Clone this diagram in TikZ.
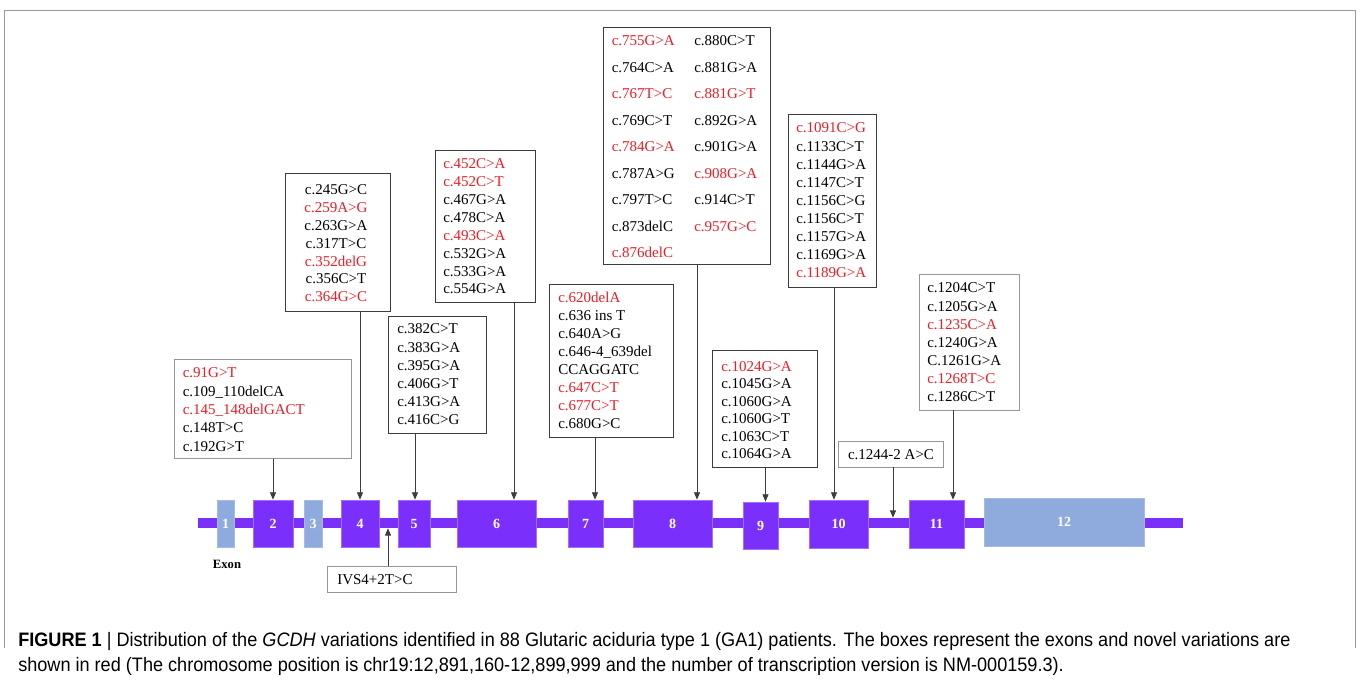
\documentclass[tikz,border=0pt]{standalone}
\usepackage{fontspec}
\setmainfont{Liberation Serif}
\newfontfamily\capfont[FakeStretch=0.93]{Liberation Sans}
\usetikzlibrary{arrows.meta,calc}
\definecolor{exv}{RGB}{122,48,250}
\definecolor{exb}{RGB}{143,170,220}
\definecolor{vred}{RGB}{238,28,36}
\definecolor{dk}{RGB}{60,60,60}
\definecolor{lg}{RGB}{150,150,150}
\newcommand\rd[1]{\textcolor{vred}{#1}}
\newcommand\rbox[7]{\node[#2, inner sep=0, minimum width={(#5-#3)*0.75pt}, minimum height={(#6-#4)*0.75pt}] (#1) at ({(#3+#5)/2},{(#4+#6)/2}) {#7};}
\newcommand\vlines[6][]{\foreach \t [count=\i from 0] in {#6} {\node[vt,#1] (#2-\i) at (#3,{#4+\i*#5}) {\t};}}
\begin{document}
\begin{tikzpicture}[x=0.75pt,y=-0.75pt,
 exon/.style={fill=exv, draw=exv!70!white, line width=0.5pt, text=white, font=\fontsize{10.5}{12}\selectfont\bfseries},
 exonb/.style={exon, fill=exb, draw=exb!80!white},
 vbox/.style={draw=dk, line width=0.6pt, fill=white},
 gbox/.style={draw=lg, line width=0.6pt, fill=white},
 vt/.style={font=\fontsize{11.25}{13}\selectfont, inner sep=0, anchor=base west},
 arr/.style={draw=dk, line width=0.6pt, -{Triangle[width=4.5pt,length=5.5pt]}},
 captxt/.style={anchor=base west, inner sep=0, font=\capfont\fontsize{14.6}{16}\selectfont},
]
\useasboundingbox (0,0) rectangle (1360,684);
\draw[lg, line width=0.5pt] (4,648) -- (4,10) -- (1355,10) -- (1355,648);

% backbone and exons
\rbox{bb}{fill=exv}{198}{518}{1183}{528}{}
\rbox{e1}{exonb}{217}{500}{234}{547}{1}
\rbox{e2}{exon}{253}{500}{293}{547}{2}
\rbox{e3}{exonb}{304}{500}{322}{547}{3}
\rbox{e4}{exon}{341}{500}{379}{547}{4}
\rbox{e5}{exon}{398}{500}{430}{547}{5}
\rbox{e6}{exon}{457}{500}{536}{547}{6}
\rbox{e7}{exon}{568}{500}{603}{547}{7}
\rbox{e8}{exon}{633}{500}{712}{547}{8}
\rbox{e9}{exon}{743}{502}{778}{549}{9}
\rbox{e10}{exon}{809}{500}{868}{548}{10}
\rbox{e11}{exon}{909}{500}{964}{548}{11}
\rbox{e12}{exonb}{984}{498}{1144}{546}{12}
\node[font=\fontsize{9.5}{11}\selectfont\bfseries, inner sep=0] (exlab) at (227,564) {Exon};

% variation boxes
\rbox{bA}{gbox}{174.5}{359.5}{351.5}{458.5}{}
\vlines{tA}{182.5}{378}{18.3}{\rd{c.91G>T},c.109\_110delCA,\rd{c.145\_148delGACT},c.148T>C,c.192G>T}

\rbox{bB}{vbox}{285.5}{173}{390.5}{311}{}
\vlines[anchor=base]{tB}{336}{195}{17.8}{c.245G>C,\rd{c.259A>G},c.263G>A,c.317T>C,\rd{c.352delG},c.356C>T,\rd{c.364G>C}}

\rbox{bC}{vbox}{388.5}{316}{486}{433}{}
\vlines{tC}{397}{334}{18}{c.382C>T,c.383G>A,c.395G>A,c.406G>T,c.413G>A,c.416C>G}

\rbox{bD}{vbox}{435.5}{150}{535.5}{302}{}
\vlines{tD}{443}{169}{17.85}{\rd{c.452C>A},\rd{c.452C>T},c.467G>A,c.478C>A,\rd{c.493C>A},c.532G>A,c.533G>A,c.554G>A}

\rbox{bE}{vbox}{549}{284}{673}{437}{}
\vlines{tE}{558}{302}{18.1}{\rd{c.620delA},c.636 ins T,c.640A>G,c.646-4\_639del,CCAGGATC,\rd{c.647C>T},\rd{c.677C>T},c.680G>C}

\rbox{bF}{vbox}{603}{27}{770}{264}{}
\vlines{tF}{611.5}{46}{26.5}{\rd{c.755G>A},c.764C>A,\rd{c.767T>C},c.769C>T,\rd{c.784G>A},c.787A>G,c.797T>C,c.873delC,\rd{c.876delC}}
\vlines{tFb}{694}{46}{26.5}{c.880C>T,c.881G>A,\rd{c.881G>T},c.892G>A,c.901G>A,\rd{c.908G>A},c.914C>T,\rd{c.957G>C}}

\rbox{bG}{vbox}{712.5}{350}{817}{467}{}
\vlines{tG}{721}{371}{17.5}{\rd{c.1024G>A},c.1045G>A,c.1060G>A,c.1060G>T,c.1063C>T,c.1064G>A}

\rbox{bH}{vbox}{788.5}{114}{876}{287}{}
\vlines{tH}{796}{133}{18.1}{\rd{c.1091C>G},c.1133C>T,c.1144G>A,c.1147C>T,c.1156C>G,c.1156C>T,c.1157G>A,c.1169G>A,\rd{c.1189G>A}}

\rbox{bI}{gbox}{919.5}{274}{1019.5}{410}{}
\vlines{tI}{927}{293}{18.05}{c.1204C>T,c.1205G>A,\rd{c.1235C>A},c.1240G>A,C.1261G>A,\rd{c.1268T>C},c.1286C>T}

\rbox{bJ}{gbox}{838.5}{441}{943.5}{467}{}
\node[vt, anchor=base] (tJ) at (891,459) {c.1244-2 A>C};

\rbox{bK}{gbox}{327}{566}{456}{592}{}
\node[vt] (tK) at (337,584) {IVS4+2T>C};

% connectors
\draw[arr] (bA.south -| 273,0) -- (e2.north -| 273,0);
\draw[arr] (bB.south -| 360,0) -- (e4.north -| 360,0);
\draw[arr] (bC.south -| 415,0) -- (e5.north -| 415,0);
\draw[arr] (bD.south -| 514,0) -- (e6.north -| 514,0);
\draw[arr] (bE.south -| 595,0) -- (e7.north -| 595,0);
\draw[arr] (bF.south -| 697,0) -- (e8.north -| 697,0);
\draw[arr] (bG.south -| 765.5,0) -- (e9.north -| 765.5,0);
\draw[arr] (bH.south -| 834,0) -- (e10.north -| 834,0);
\draw[arr] (bJ.south -| 893,0) -- (bb.north -| 893,0);
\draw[arr] (bI.south -| 953,0) -- (e11.north -| 953,0);
\draw[arr] (bK.north -| 388,0) -- (bb.south -| 388,0);

% caption
\node[captxt] (cap1) at (18,646) {\textbf{FIGURE 1} | Distribution of the \textit{GCDH} variations identified in 88 Glutaric aciduria type 1 (GA1) patients. The boxes represent the exons and novel variations are};
\node[captxt] (cap2) at (18,671) {shown in red (The chromosome position is chr19:12,891,160-12,899,999 and the number of transcription version is NM-000159.3).};
\end{tikzpicture}
\end{document}
